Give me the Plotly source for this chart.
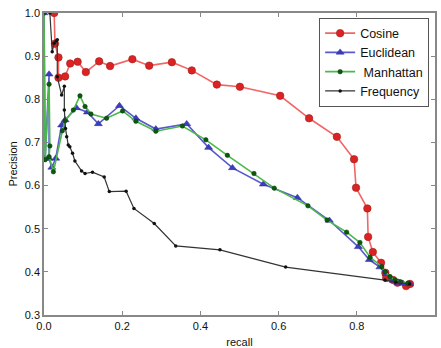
import plotly.graph_objects as go

cos_x = [0.026, 0.028, 0.037, 0.037, 0.054, 0.067, 0.086, 0.107, 0.141, 0.169, 0.226, 0.269, 0.327,
         0.378, 0.442, 0.501, 0.604, 0.678, 0.749, 0.793, 0.798, 0.827, 0.829, 0.841, 0.862, 0.873,
         0.875, 0.893, 0.904, 0.926, 0.936]
cos_y = [1.0, 0.929, 0.897, 0.850, 0.853, 0.883, 0.887, 0.863, 0.888, 0.877, 0.893, 0.878, 0.886,
         0.867, 0.834, 0.829, 0.808, 0.756, 0.713, 0.661, 0.595, 0.547, 0.481, 0.446, 0.421, 0.398,
         0.386, 0.381, 0.375, 0.367, 0.372]

euc_x = [0.0, 0.003, 0.013, 0.013, 0.020, 0.030, 0.045, 0.054, 0.083, 0.111, 0.139, 0.193, 0.235,
         0.286, 0.365, 0.421, 0.482, 0.561, 0.648, 0.730, 0.804, 0.832, 0.859, 0.875, 0.893, 0.905,
         0.918, 0.935]
euc_y = [1.0, 0.663, 0.858, 0.663, 0.642, 0.663, 0.740, 0.752, 0.780, 0.770, 0.743, 0.785, 0.756,
         0.731, 0.743, 0.688, 0.641, 0.603, 0.572, 0.519, 0.458, 0.428, 0.411, 0.395, 0.380, 0.375,
         0.373, 0.372]

man_x = [0.0, 0.003, 0.013, 0.015, 0.013, 0.024, 0.047, 0.054, 0.075, 0.092, 0.105, 0.120, 0.160,
         0.201, 0.235, 0.286, 0.354, 0.414, 0.469, 0.537, 0.589, 0.675, 0.724, 0.774, 0.808, 0.834,
         0.864, 0.872, 0.885, 0.898, 0.912, 0.931]
man_y = [1.0, 0.660, 0.835, 0.692, 0.667, 0.632, 0.727, 0.750, 0.775, 0.808, 0.783, 0.766, 0.756,
         0.773, 0.749, 0.726, 0.738, 0.706, 0.670, 0.628, 0.594, 0.553, 0.520, 0.492, 0.468, 0.434,
         0.412, 0.400, 0.389, 0.381, 0.377, 0.374]

freq_x = [0.015, 0.021, 0.026, 0.031, 0.034, 0.034, 0.045, 0.052, 0.052, 0.055, 0.058, 0.062, 0.066,
          0.073, 0.079, 0.096, 0.105, 0.124, 0.154, 0.167, 0.210, 0.230, 0.282, 0.337, 0.450, 0.618,
          0.872, 0.900, 0.935]
freq_y = [1.0, 0.910, 0.930, 0.935, 0.938, 0.852, 0.810, 0.830, 0.775, 0.732, 0.713, 0.694, 0.690,
          0.675, 0.657, 0.634, 0.628, 0.631, 0.620, 0.586, 0.587, 0.547, 0.512, 0.460, 0.451, 0.411,
          0.381, 0.376, 0.372]

x_ticks = [0.0, 0.2, 0.4, 0.6, 0.8, 1.0]
y_ticks = [0.3, 0.4, 0.5, 0.6, 0.7, 0.8, 0.9, 1.0]

FONT = "Liberation Sans, Arial, sans-serif"

fig = go.Figure()
fig.add_trace(go.Scatter(x=cos_x, y=cos_y, mode="lines+markers", name="Cosine",
                         line=dict(color="#f26565", width=1.6),
                         marker=dict(symbol="circle", size=7.5, color="#dd2222",
                                     line=dict(color="#992222", width=0.6))))
fig.add_trace(go.Scatter(x=euc_x, y=euc_y, mode="lines+markers", name="Euclidean",
                         line=dict(color="#5a5ad0", width=1.6),
                         marker=dict(symbol="triangle-up", size=7, color="#3c3cc0",
                                     line=dict(color="#2a2a90", width=0.5))))
fig.add_trace(go.Scatter(x=man_x, y=man_y, mode="lines+markers", name="\u00a0Manhattan",
                         line=dict(color="#4cb84c", width=1.6),
                         marker=dict(symbol="circle", size=4.5, color="#0a5a0a",
                                     line=dict(color="#063806", width=0.5))))
fig.add_trace(go.Scatter(x=freq_x, y=freq_y, mode="lines+markers", name="Frequency",
                         line=dict(color="#333333", width=1.2),
                         marker=dict(symbol="circle", size=3.5, color="#111111")))

axis_common = dict(showgrid=False, zeroline=False, showline=True, linecolor="#888888", linewidth=1.5,
                   mirror="allticks", ticks="inside", ticklen=4, tickcolor="#888888",
                   automargin=False,
                   tickfont=dict(family=FONT, size=11, color="#111111"))

fig.update_xaxes(range=[0, 1.0], tickvals=x_ticks, ticktext=[f"{v:.1f}" for v in x_ticks],
                 title=dict(text="recall", font=dict(family=FONT, size=11, color="#111111"), standoff=8),
                 **axis_common)
fig.update_yaxes(range=[0.3, 1.0], tickvals=y_ticks, ticktext=[f"{v:.1f}" for v in y_ticks],
                 title=dict(text="Precision", font=dict(family=FONT, size=11, color="#111111"), standoff=5),
                 **axis_common)

fig.update_layout(
    width=441, height=348,
    margin=dict(l=44, r=6, t=13, b=33),
    paper_bgcolor="white", plot_bgcolor="white",
    showlegend=True,
    legend=dict(x=0.985, y=0.985, xanchor="right", yanchor="top",
                bordercolor="#555555", borderwidth=1, bgcolor="white",
                font=dict(family=FONT, size=12.5, color="#111111"),
                itemwidth=30, tracegroupgap=0),
)

fig.write_html("out.html")
